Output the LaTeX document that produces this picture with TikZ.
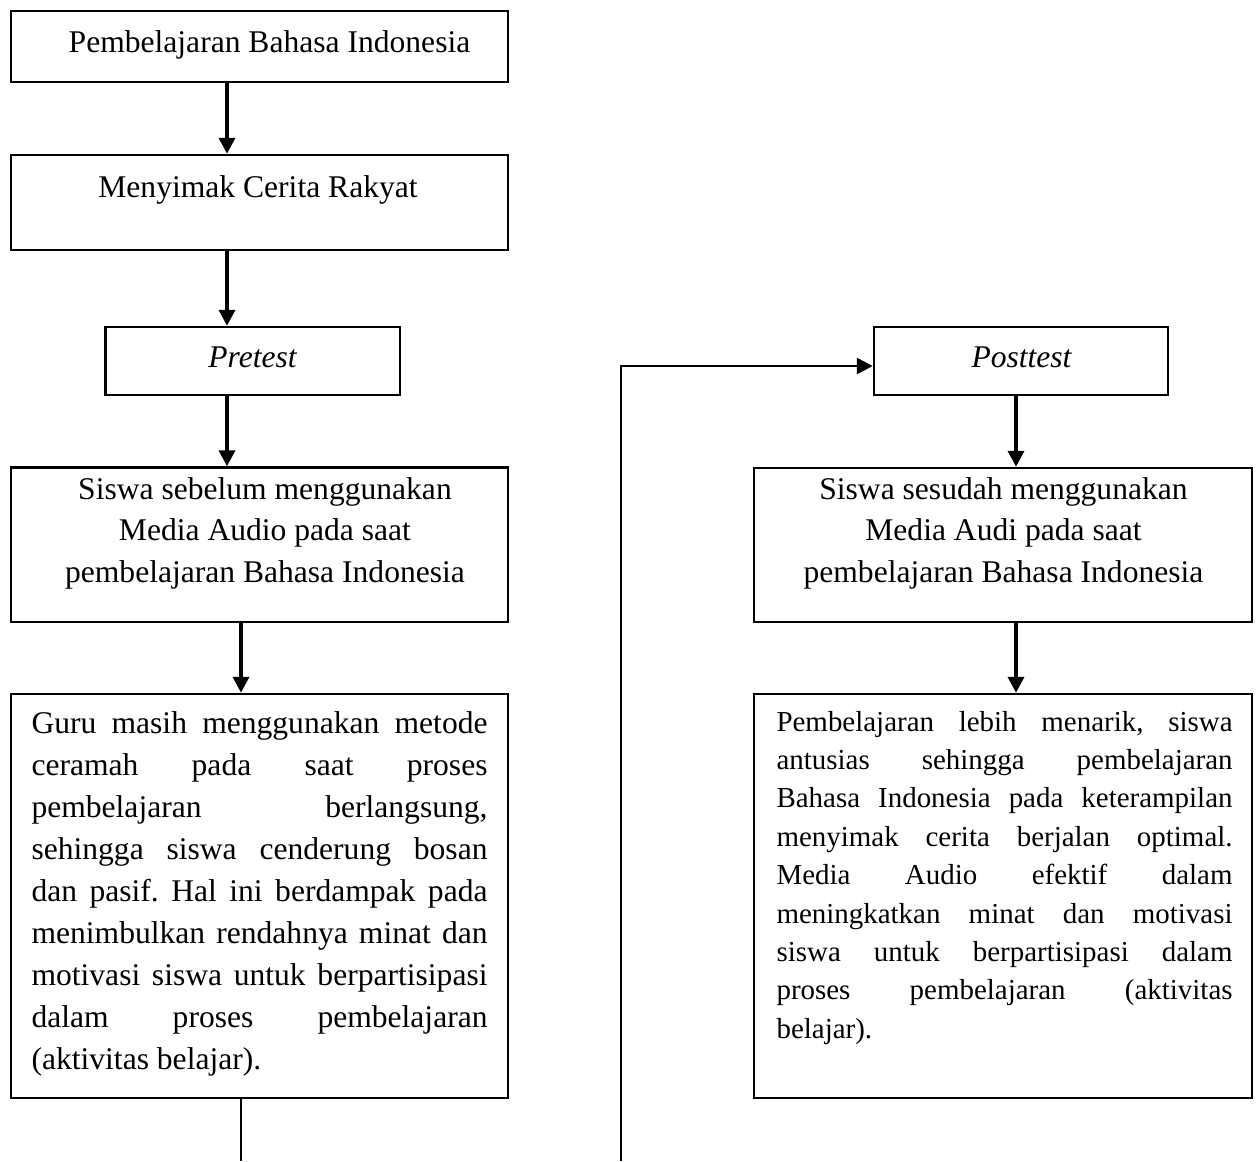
\documentclass[tikz,border=0pt]{standalone}
\usepackage{fontspec}
\setmainfont{Liberation Serif}
\usetikzlibrary{arrows.meta,fit}
\newcommand{\jl}[1]{\hbox to\hsize{#1}}
\newcommand{\cl}[1]{\hbox to\hsize{\hss#1\hss}}
\newcommand{\lastl}[1]{\hbox to\hsize{#1\hfil}}
\hbadness=10000
\frenchspacing
\begin{document}
\begin{tikzpicture}[x=0.38pt,y=-0.38pt,
  box/.style={draw,line width=0.95pt,inner sep=0pt,rectangle},
  arr/.style={line width=1.4pt,-{Triangle[length=6pt,width=6pt]}},
  txt/.style={inner sep=0pt,font=\fontsize{12pt}{14pt}\selectfont},
  txts/.style={inner sep=0pt,font=\fontsize{11pt}{13pt}\selectfont},
  itx/.style={inner sep=0pt,font=\fontsize{12pt}{14pt}\selectfont\itshape}
  ]
\useasboundingbox (0,0) rectangle (1259,1161);
% boxes
\node[box,fit={(11,11) (508,82)}] (b1) {};
\node[box,fit={(11,155) (508,250)}] (b2) {};
\node[box,fit={(105.5,327) (400,395)}] (b3) {};
\node[box,fit={(11,467.5) (508,622)}] (b4) {};
\node[box,fit={(11,694) (508,1098)}] (b5) {};
\node[box,fit={(874,327) (1168,395)}] (b6) {};
\node[box,fit={(754,468) (1252,622)}] (b7) {};
\node[box,fit={(754,694) (1252,1098)}] (b8) {};
% texts
\node[txt,anchor=base] (t1) at (269.5,52) {Pembelajaran Bahasa Indonesia};
\node[txt,anchor=base] (t2) at (258,197) {Menyimak Cerita Rakyat};
\node[itx,anchor=base] (t3) at (252.5,367) {Pretest};
\node[itx,anchor=base] (t6) at (1021.5,367) {Posttest};
\node[txt,anchor=base] (t4) at (265,499) {\vtop{\hsize=173pt\baselineskip=15.8pt
  \cl{Siswa sebelum menggunakan}
  \cl{Media Audio pada saat}
  \cl{pembelajaran Bahasa Indonesia}}};
\node[txt,anchor=base] (t7) at (1003.5,499) {\vtop{\hsize=173pt\baselineskip=15.8pt
  \cl{Siswa sesudah menggunakan}
  \cl{Media Audi pada saat}
  \cl{pembelajaran Bahasa Indonesia}}};
\node[txt,anchor=base west] (t5) at (31,733) {\vtop{\hsize=173.3pt\baselineskip=16pt
  \jl{Guru masih menggunakan metode}
  \jl{ceramah pada saat proses}
  \jl{pembelajaran berlangsung,}
  \jl{sehingga siswa cenderung bosan}
  \jl{dan pasif. Hal ini berdampak pada}
  \jl{menimbulkan rendahnya minat dan}
  \jl{motivasi siswa untuk berpartisipasi}
  \jl{dalam proses pembelajaran}
  \lastl{(aktivitas belajar).}}};
\node[txts,anchor=base west] (t8) at (776,731) {\vtop{\hsize=173.3pt\baselineskip=14.6pt
  \jl{Pembelajaran lebih menarik, siswa}
  \jl{antusias sehingga pembelajaran}
  \jl{Bahasa Indonesia pada keterampilan}
  \jl{menyimak cerita berjalan optimal.}
  \jl{Media Audio efektif dalam}
  \jl{meningkatkan minat dan motivasi}
  \jl{siswa untuk berpartisipasi dalam}
  \jl{proses pembelajaran (aktivitas}
  \lastl{belajar).}}};
% helper coordinates
\coordinate (xa) at (227,0);
\coordinate (xb) at (241,0);
\coordinate (xc) at (1016,0);
\coordinate (xl) at (621,0);
\coordinate (bot) at (0,1161);
\coordinate (ya) at (0,366);
% connectors
\draw[arr] (xa|-b1.south) -- (xa|-b2.north);
\draw[arr] (xa|-b2.south) -- (xa|-b3.north);
\draw[arr] (xa|-b3.south) -- (xa|-b4.north);
\draw[arr] (xb|-b4.south) -- (xb|-b5.north);
\draw[line width=0.6pt] (xb|-b5.south) -- (xb|-bot);
\draw[line width=1pt,-{Triangle[length=6pt,width=6pt]}] (xl|-bot) |- (b6.west|-ya);
\draw[arr] (xc|-b6.south) -- (xc|-b7.north);
\draw[arr] (xc|-b7.south) -- (xc|-b8.north);
\end{tikzpicture}
\end{document}
